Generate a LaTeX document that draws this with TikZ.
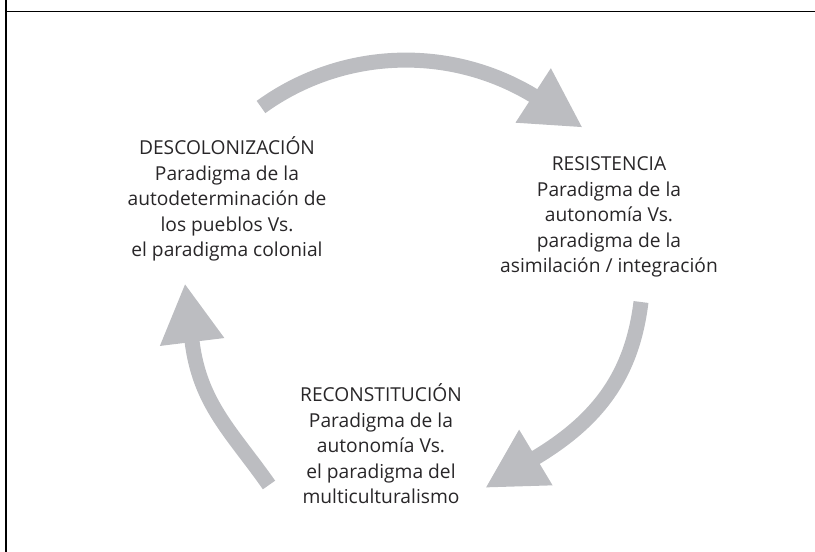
\documentclass[tikz,border=0pt]{standalone}
\usepackage{fontspec}
\setmainfont{Open Sans}
\usetikzlibrary{calc}
\definecolor{arrowgray}{RGB}{188,189,193}
\definecolor{txt}{RGB}{40,38,40}
\begin{document}
\begin{tikzpicture}[x=1pt,y=1pt,
  lbl/.style={align=center, font=\fontsize{19.2}{25.5}\selectfont, text=txt, inner sep=0pt},
  shaft/.style={draw=arrowgray, line width=15pt},
  head/.style={fill=arrowgray},
  frame/.style={line width=1.3pt, draw=black}]
\useasboundingbox (0,0) rectangle (815,552);
% frame
\draw[frame] (6,0) -- (6,552);
\draw[frame] (6,540.5) -- (815,540.5);
% labels
\node[lbl] (desc) at (227,353) {DESCOLONIZACIÓN\\Paradigma de la\\autodeterminación de\\los pueblos Vs.\\el paradigma colonial};
\node[lbl] (resi) at (609,335) {RESISTENCIA\\Paradigma de la\\autonomía Vs.\\paradigma de la\\asimilación / integración};
\node[lbl] (reco) at (381,108) {RECONSTITUCIÓN\\Paradigma de la\\autonomía Vs.\\el paradigma del\\multiculturalismo};
% arrow end points
\coordinate (ta) at (261,445);
\coordinate (tb) at (534,456);
\coordinate (ra) at (641,250);
\coordinate (rb) at (535,94);
\coordinate (la) at (269,67);
\coordinate (lb) at (192,211);
% top arrow
\draw[shaft] (ta) arc[start angle=125.9, end angle=58.8, radius=247];
\fill[head, shift={(tb)}, rotate=-33] (-1,-32.5) -- (57,0) -- (-1,32.5) -- cycle;
% right arrow
\draw[shaft] (ra) to[out=-97, in=31] (rb);
\fill[head, shift={(rb)}, rotate=-149] (-1,-32.5) -- (57,0) -- (-1,32.5) -- cycle;
% left arrow
\draw[shaft] (la) to[out=125, in=-83] (lb);
\fill[head, shift={(lb)}, rotate=97] (-1,-32.5) -- (57,0) -- (-1,32.5) -- cycle;
\end{tikzpicture}
\end{document}
